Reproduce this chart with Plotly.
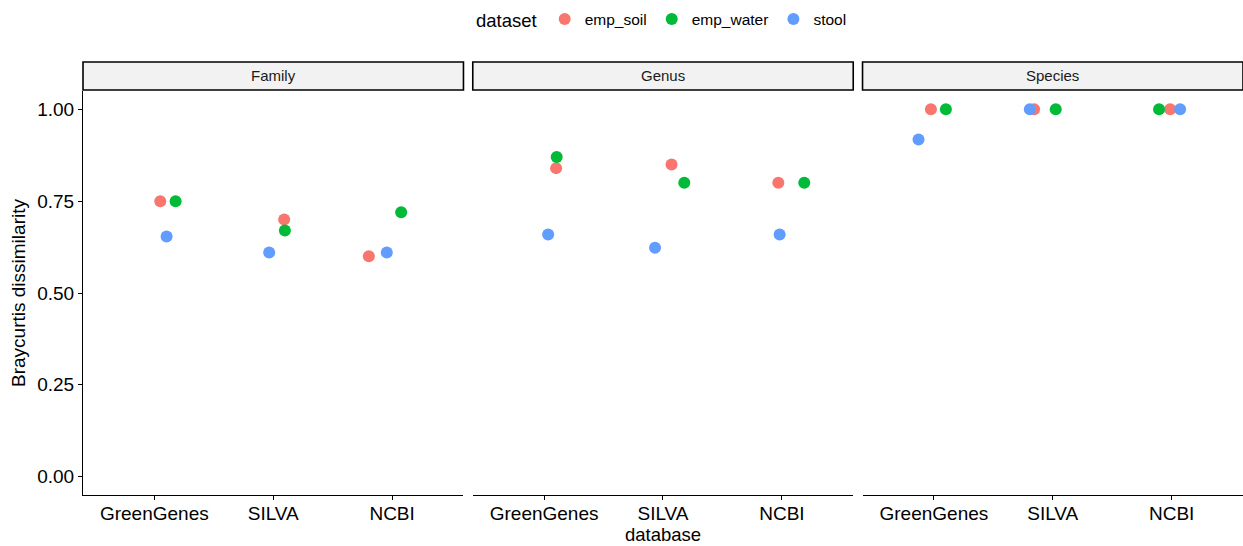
import plotly.graph_objects as go
from plotly.subplots import make_subplots

# ---- data ----
levels = ["Family", "Genus", "Species"]
databases = ["GreenGenes", "SILVA", "NCBI"]
datasets = ["emp_soil", "emp_water", "stool"]
colors = ["#F8766D", "#00BA38", "#619CFF"]

# Bray-Curtis dissimilarity, ordered level-major: Family(GG,SILVA,NCBI), Genus(...), Species(...)
emp_soil = [0.75, 0.70, 0.60, 0.84, 0.85, 0.80, 1.00, 1.00, 1.00]
emp_water = [0.75, 0.67, 0.72, 0.87, 0.80, 0.80, 1.00, 1.00, 1.00]
stool = [0.654, 0.61, 0.61, 0.659, 0.623, 0.659, 0.918, 1.00, 1.00]

# horizontal jitter (in category units)
jit_soil = [0.050, 0.092, -0.196, 0.101, 0.072, -0.030, -0.025, -0.157, -0.013]
jit_water = [0.179, 0.098, 0.076, 0.106, 0.179, 0.188, 0.101, 0.025, -0.106]
jit_stool = [0.103, -0.034, -0.045, 0.034, -0.067, -0.019, -0.129, -0.193, 0.071]

values = [emp_soil, emp_water, stool]
jitters = [jit_soil, jit_water, jit_stool]

y_ticks = [0.0, 0.25, 0.5, 0.75, 1.0]
y_ticktext = ["0.00", "0.25", "0.50", "0.75", "1.00"]

FONT = "Liberation Sans, Arial, sans-serif"

W, H = 1243, 546
ml, mr, mt, mb = 83, 0, 91, 51
pw = W - ml - mr
ph = H - mt - mb
gap = 9.3 / pw

fig = make_subplots(rows=1, cols=3, shared_yaxes=True, horizontal_spacing=gap)

for d, (name, col) in enumerate(zip(datasets, colors)):
    for li, lev in enumerate(levels):
        xs, ys = [], []
        for di in range(len(databases)):
            k = li * 3 + di
            xs.append(di + 1 + jitters[d][k])
            ys.append(values[d][k])
        fig.add_trace(
            go.Scatter(
                x=xs, y=ys, mode="markers", name=name,
                marker=dict(color=col, size=12, line=dict(width=0)),
                showlegend=(li == 0), legendgroup=name,
            ),
            row=1, col=li + 1,
        )

for c in range(1, 4):
    fig.update_xaxes(
        range=[0.4, 3.6], tickmode="array", tickvals=[1, 2, 3], ticktext=databases,
        showline=True, linecolor="black", linewidth=1.1, ticks="outside", ticklen=4,
        tickcolor="black", tickwidth=1, showgrid=False, zeroline=False,
        tickfont=dict(size=19, color="black", family=FONT), ticklabelstandoff=-3,
        row=1, col=c,
    )
    fig.update_yaxes(
        range=[-0.05, 1.05], tickmode="array", tickvals=y_ticks, ticktext=y_ticktext,
        showline=(c == 1), linecolor="black", linewidth=1.1,
        ticks="outside" if c == 1 else "", ticklen=4, tickcolor="black", tickwidth=1,
        showgrid=False, zeroline=False, showticklabels=(c == 1),
        tickfont=dict(size=19, color="black", family=FONT),
        row=1, col=c,
    )

fig.update_xaxes(title_text="database", title_font=dict(size=18.5, color="black", family=FONT),
                 title_standoff=0, row=1, col=2)
fig.update_yaxes(title_text="Braycurtis dissimilarity",
                 title_font=dict(size=19, color="black", family=FONT),
                 title_standoff=6, row=1, col=1)

# facet strips
strip_bottom = 1.0 + 1 / ph
strip_top = 1.0 + 29 / ph
for i, lev in enumerate(levels):
    ax = fig.layout["xaxis" if i == 0 else f"xaxis{i+1}"]
    x0, x1 = ax.domain
    fig.add_shape(type="rect", xref="paper", yref="paper", x0=x0, x1=x1,
                  y0=strip_bottom, y1=strip_top,
                  fillcolor="#F2F2F2", line=dict(color="black", width=1.6), layer="below")
    fig.add_annotation(text=lev, xref="paper", yref="paper", x=(x0 + x1) / 2,
                       y=(strip_bottom + strip_top) / 2, showarrow=False,
                       font=dict(size=15, color="#1A1A1A", family=FONT),
                       xanchor="center", yanchor="middle")

fig.update_layout(
    width=W, height=H,
    margin=dict(l=ml, r=mr, t=mt, b=mb),
    plot_bgcolor="white", paper_bgcolor="white",
    font=dict(family=FONT, color="black"),
    legend=dict(
        orientation="h", x=0.5, xanchor="center", y=1.0 + (mt - 20) / ph, yanchor="middle",
        title=dict(text="dataset", font=dict(size=18.5, family=FONT, color="black"), side="left"),
        font=dict(size=15.5, family=FONT, color="black"),
        itemsizing="constant", bgcolor="rgba(0,0,0,0)",
    ),
)

fig.write_html("out.html")
